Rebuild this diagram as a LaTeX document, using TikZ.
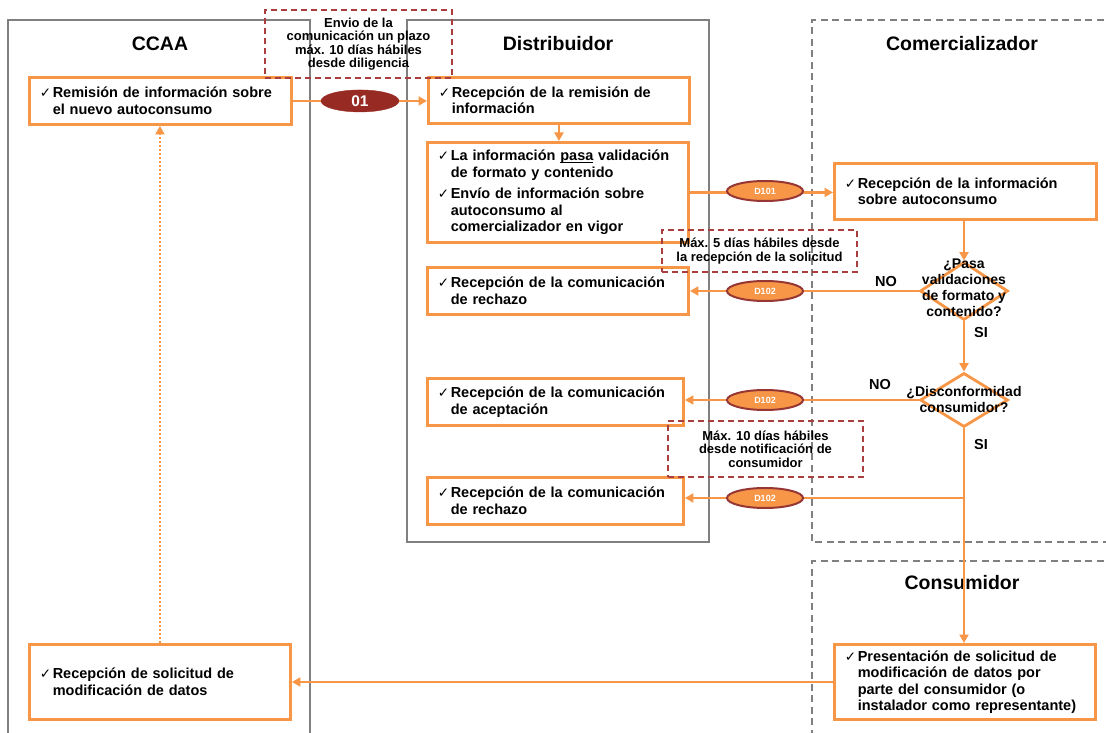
\documentclass[tikz,border=0pt]{standalone}
\usepackage{fontspec}
\setmainfont{Liberation Sans}
\newfontfamily\symf{DejaVu Sans}
\usetikzlibrary{arrows.meta,shapes.geometric,calc}
\definecolor{orng}{RGB}{247,150,70}
\definecolor{dred}{RGB}{152,42,36}
\definecolor{ered}{RGB}{150,55,53}
\definecolor{nred}{RGB}{170,62,62}
\definecolor{lgray}{RGB}{128,128,128}
\newcommand{\ck}{{\symf\mdseries\fontsize{13.5}{13.5}\selectfont ✓}\kern1.5pt}
\newcommand{\ckp}{\hphantom{\ck}}
\newcommand{\ulin}[1]{\setbox0\hbox{#1}\rlap{\rule[-2.2pt]{\wd0}{1.1pt}}#1}
\tikzset{
  lane/.style={draw=lgray, line width=2.4pt},
  lanedash/.style={draw=lgray, line width=2.2pt, dash pattern=on 7pt off 4.5pt},
  lanetitle/.style={font=\bfseries\fontsize{19.5}{22}\selectfont, inner sep=0pt},
  box/.style={draw=orng, line width=2.9pt, rectangle, anchor=north west, align=left,
    inner xsep=10.5pt, inner ysep=3pt, font=\bfseries\fontsize{14.5}{16.5}\selectfont},
  note/.style={draw=nred, line width=1.2pt, dash pattern=on 6pt off 4pt, align=center,
    inner sep=0pt, font=\bfseries\fontsize{13}{13.4}\selectfont},
  conn/.style={draw=orng, line width=2.7pt, -{Triangle[length=8.5pt,width=9pt]}},
  conndot/.style={conn, dash pattern=on 2pt off 2pt},
  chip/.style={ellipse, fill=orng, draw=ered, line width=2pt, minimum width=76pt,
    minimum height=20pt, inner sep=0pt, text=white, font=\bfseries\fontsize{9}{9}\selectfont},
  chipdark/.style={ellipse, fill=dred, draw=dred, minimum width=78pt, minimum height=22pt,
    inner sep=0pt, text=white, font=\bfseries\fontsize{15.5}{15.5}\selectfont},
  dec/.style={diamond, draw=orng, line width=2.8pt, minimum width=88pt, inner sep=0pt},
  dtext/.style={align=center, inner sep=0pt, font=\bfseries\fontsize{14}{16}\selectfont},
  lbl/.style={inner sep=0pt, font=\bfseries\fontsize{14.5}{16}\selectfont}
}
\begin{document}
\begin{tikzpicture}[x=1pt,y=-1pt]
\useasboundingbox (0,0) rectangle (1106,733);
% lanes
\draw[lane] (8,745) -- (8,20) -- (310,20) -- (310,745);
\draw[lane] (407,20) rectangle (709,542);
\draw[lanedash] (1115,20) -- (812,20) -- (812,542) -- (1115,542);
\draw[lanedash] (1115,561) -- (812,561) -- (812,745);
\node[lanetitle] (tA) at (160,44) {CCAA};
\node[lanetitle] (tB) at (558,44) {Distribuidor};
\node[lanetitle] (tC) at (962,44) {Comercializador};
\node[lanetitle] (tD) at (962,583) {Consumidor};
% boxes
\node[box, text width=241pt, minimum height=47pt] (A1) at (28,76)
  {\ck Remisión de información sobre\\ \ckp el nuevo autoconsumo};
\node[box, text width=240pt, minimum height=46pt] (B1) at (427,76)
  {\ck Recepción de la remisión de\\ \ckp información};
\node[box, text width=240pt, minimum height=100pt] (B2) at (426,141)
  {\ck La información \ulin{pasa} validación\\ \ckp de formato y contenido\\[5pt]
   \ck Envío de información sobre\\ \ckp autoconsumo al\\ \ckp comercializador en vigor};
\node[box, text width=240pt, minimum height=47pt] (B3) at (426,266)
  {\ck Recepción de la comunicación\\ \ckp de rechazo};
\node[box, text width=235pt, minimum height=47pt] (B4) at (426,377)
  {\ck Recepción de la comunicación\\ \ckp de aceptación};
\node[box, text width=235pt, minimum height=47pt] (B5) at (426,476)
  {\ck Recepción de la comunicación\\ \ckp de rechazo};
\node[box, text width=241pt, minimum height=56pt] (C1) at (833,162)
  {\ck Recepción de la información\\ \ckp sobre autoconsumo};
\node[box, text width=240pt, minimum height=75pt] (D1) at (833,643)
  {\ck Presentación de solicitud de\\ \ckp modificación de datos por\\ \ckp parte del consumidor (o\\ \ckp instalador como representante)};
\node[box, text width=240pt, minimum height=75pt] (A2) at (28,643)
  {\ck Recepción de solicitud de\\ \ckp modificación de datos};
% decisions
\node[dec, minimum height=58pt] (d1) at (964,291) {};
\node[dtext] (d1t) at (964,288) {¿Pasa\\ validaciones\\ de formato y\\ contenido?};
\node[dec, minimum height=54pt] (d2) at (964,400) {};
\node[dtext] (d2t) at (964,399) {¿Disconformidad\\ consumidor?};
% notes
\node[note, minimum width=187pt, minimum height=68pt] (n1) at (358.5,44)
  {Envio de la\\ comunicación un plazo\\ máx. 10 días hábiles\\ desde diligencia};
\node[note, minimum width=195pt, minimum height=42pt] (n2) at (759.5,251)
  {Máx. 5 días hábiles desde\\ la recepción de la solicitud};
\node[note, minimum width=195pt, minimum height=56pt] (n3) at (765.5,449)
  {Máx. 10 días hábiles\\ desde notificación de\\ consumidor};
% connectors
\draw[conn] (A1.east) -- (A1.east -| B1.west);
\node[chipdark] (e01) at ($(A1.east)!0.5!(A1.east -| B1.west)$) {01};
\draw[conn] (B1.south) -- (B1.south |- B2.north);
\draw[conn] (B2.east) -- (B2.east -| C1.west);
\node[chip] (e101) at (765,191) {D101};
\draw[conn] (d1.north |- C1.south) -- (d1.north);
\draw[conn] (d1.west) -- (d1.west -| B3.east);
\node[chip] (e102a) at (765,291) {D102};
\draw[conn] (d1.south) -- (d2.north);
\draw[conn] (d2.west) -- (d2.west -| B4.east);
\node[chip] (e102b) at (765,400) {D102};
\draw[conn] (d2.south) -- (d2.south |- D1.north);
\coordinate (br) at (964,498);
\draw[conn] (br) -- (br -| B5.east);
\node[chip] (e102c) at (765,498) {D102};
\draw[conn] (D1.west) -- (D1.west -| A2.east);
\draw[conndot] (A2.north) -- (A2.north |- A1.south);
% labels
\node[lbl] (no1) at (886,282) {NO};
\node[lbl] (no2) at (880,385) {NO};
\node[lbl] (si1) at (981,333) {SI};
\node[lbl] (si2) at (981,445) {SI};
\end{tikzpicture}
\end{document}
